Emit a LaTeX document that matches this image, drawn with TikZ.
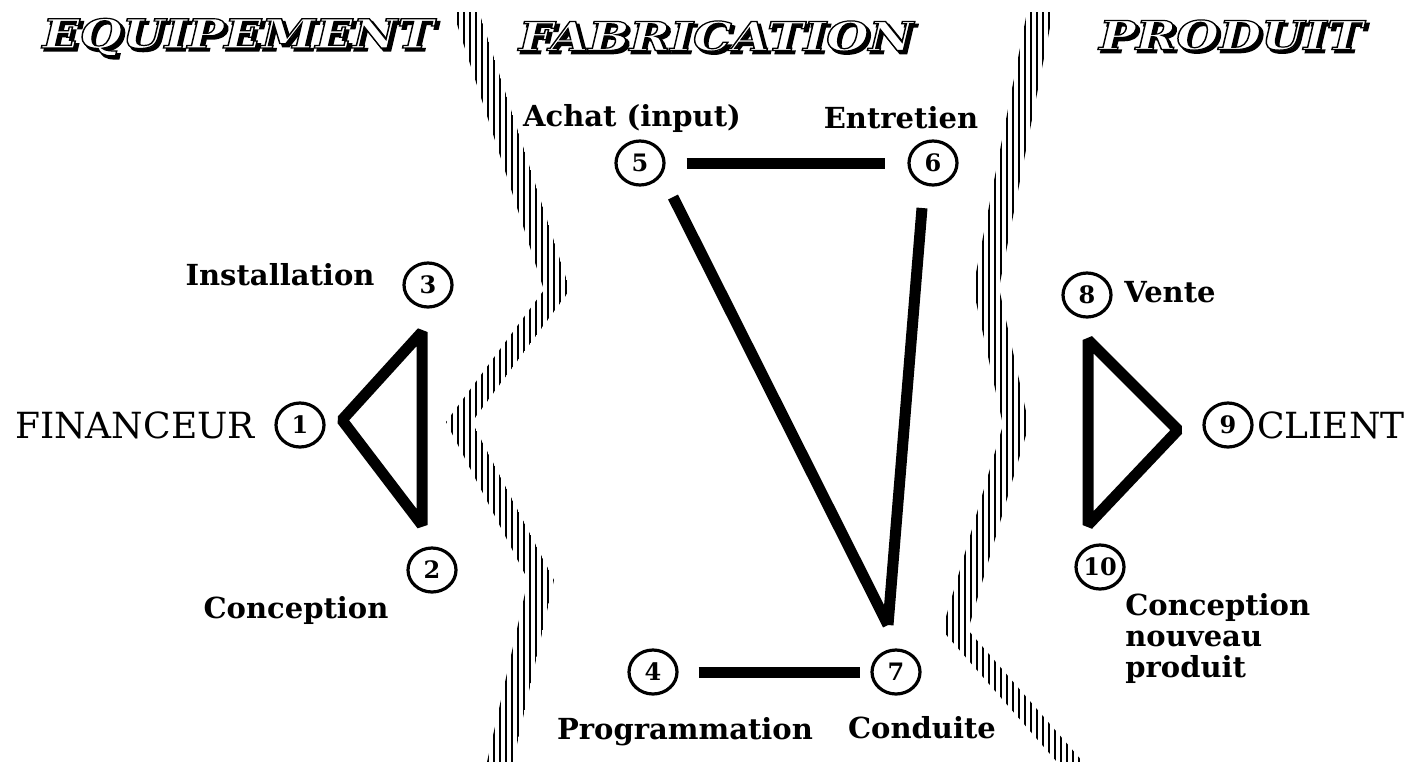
\documentclass[tikz,border=0pt]{standalone}
\usepackage{fontspec}
\usepackage{graphicx}
\usepackage{tikz}
\usetikzlibrary{shapes.geometric}
\newfontfamily\dvserif{DejaVu Serif}
% stroked glyphs (text render mode 2)
\newcommand\strokedtext[2]{\special{pdf:literal direct 2 Tr #1}#2\special{pdf:literal direct 0 Tr}}

\tikzset{
  num/.style={ellipse, draw, line width=1.6pt, minimum width=24pt, minimum height=22pt, inner sep=0pt, font=\dvserif\bfseries\fontsize{12}{13}\selectfont},
  lbl/.style={font=\dvserif\bfseries\fontsize{14.5}{15.5}\selectfont, inner sep=0pt},
  actor/.style={font=\dvserif\fontsize{18}{20}\selectfont, inner sep=0pt},
  head/.style={font=\dvserif\bfseries\itshape\fontsize{20}{21}\selectfont, inner sep=0pt},
  link/.style={line width=5.5pt, line join=bevel},
  hatch/.style={line width=1.3pt},
}

\begin{document}
\begin{tikzpicture}[x=0.5pt,y=-0.5pt]
\path[fill=white,use as bounding box] (0,0) rectangle (1409,762);

% column titles
\foreach \hname/\hx/\hy/\word in {hEquip/238/37/EQUIPEMENT, hFabr/716/36/FABRICATION, hProd/1231/35/PRODUIT}{
  \node[head] at (\hx+3,\hy+3) {\scalebox{1.22}[1]{\strokedtext{0.8 w}{\word}}};
  \node[head,text=white] (\hname) at (\hx,\hy) {\scalebox{1.22}[1]{\strokedtext{0.6 w 0 0 0 RG}{\word}}};
}

% hatched borders
\begin{scope}
\clip (453,12) -- (544,290) -- (446,422) -- (528,580) -- (487,762) -- (513,762) -- (554,580) -- (472,422) -- (570,290) -- (479,12) -- cycle;
\foreach \x in {440,446,...,584} \draw[hatch] (\x,0) -- (\x,762);
\end{scope}
\begin{scope}
\clip (1027,12) -- (973,288) -- (1003,425) -- (942,630) -- (1057,762) -- (1083,762) -- (968,630) -- (1029,425) -- (999,288) -- (1053,12) -- cycle;
\foreach \x in {935,941,...,1090} \draw[hatch] (\x,0) -- (\x,762);
\end{scope}

% numbered steps
\node[num] (c1) at (300,425) {1};
\node[num] (c2) at (432,570) {2};
\node[num] (c3) at (428,285) {3};
\node[num] (c4) at (653,672) {4};
\node[num] (c5) at (640,163) {5};
\node[num] (c6) at (933,163) {6};
\node[num] (c7) at (896,672) {7};
\node[num] (c8) at (1087,295) {8};
\node[num] (c9) at (1228,425) {9};
\node[num] (c10) at (1100,567) {10};

\node[actor] (financeur) at (135,425) {FINANCEUR};
\node[actor] (client) at (1331,425) {CLIENT};

\node[lbl] (installation) at (280,275) {Installation};
\node[lbl] (conception) at (296,610) {Conception};
\node[lbl] (achat) at (632,118) {Achat (input)};
\node[lbl] (entretien) at (901,118) {Entretien};
\node[lbl] (programmation) at (685,732) {Programmation};
\node[lbl] (conduite) at (922,728) {Conduite};
\node[lbl] (vente) at (1170,292) {Vente};
\node[lbl,align=left,anchor=west] (nouveau) at (1125,638) {Conception\\nouveau\\produit};

% triangles
\coordinate (t1) at (342,420);
\coordinate (t3) at (422,332);
\coordinate (t2) at (422,525);
\draw[link] (t1) -- (t3) -- (t2) -- cycle;
\coordinate (t8) at (1088,340);
\coordinate (t9) at (1178,430);
\coordinate (t10) at (1088,525);
\draw[link] (t8) -- (t9) -- (t10) -- cycle;

% links of the fabrication
\draw[link,shorten <=10.5pt,shorten >=11pt] (c5) -- (c6);
\draw[link,shorten <=10pt,shorten >=5pt] (c4) -- (c7);
\coordinate (a5) at (673,197);
\coordinate (a6) at (922,208);
\coordinate (v7) at (888,625);
\draw[link] (a5) -- (v7);
\draw[link] (a6) -- (v7);
\end{tikzpicture}
\end{document}
